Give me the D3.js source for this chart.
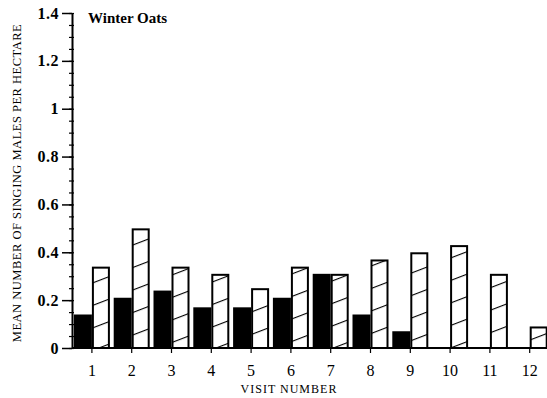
<!DOCTYPE html>
<html>
<head>
<meta charset="utf-8">
<script src="https://cdn.jsdelivr.net/npm/d3@7"></script>
<style>
  body { margin: 0; background: #fff; }
  svg { display: block; }
  .lbl { font-family: "Liberation Serif", "Times New Roman", serif; fill: #000; }
</style>
</head>
<body>
<div id="chart"></div>
<script>
// visit numbers on the x axis
const visits = ["1", "2", "3", "4", "5", "6", "7", "8", "9", "10", "11", "12"];
// solid bars
const solidVals = [0.14, 0.21, 0.24, 0.17, 0.17, 0.21, 0.31, 0.14, 0.07, 0, 0, 0];
// hatched bars
const hatchVals = [0.34, 0.50, 0.34, 0.31, 0.25, 0.34, 0.31, 0.37, 0.40, 0.43, 0.31, 0.09];
// y tick labels
const yTicks = [0, 0.2, 0.4, 0.6, 0.8, 1, 1.2, 1.4];

const W = 547, H = 398;
const margin = { top: 13, left: 72, bottom: 50 };
const y0 = 348;

const svg = d3.select("#chart").append("svg")
  .attr("width", W)
  .attr("height", H);

// hatch pattern
const defs = svg.append("defs");
defs.append("pattern")
  .attr("id", "hatch")
  .attr("patternUnits", "userSpaceOnUse")
  .attr("width", 10)
  .attr("height", 21)
  .attr("patternTransform", "translate(0,3) rotate(-21)")
  .append("line")
  .attr("x1", 0).attr("y1", 0.5)
  .attr("x2", 10).attr("y2", 0.5)
  .attr("stroke", "#000")
  .attr("stroke-width", 1.2);

// scales
let x = d3.scaleBand().domain(visits).range([72, 72 + 12 * 39.8]).padding(0);
let y = d3.scaleLinear().domain([0, 1.4]).range([y0, margin.top]);
const barW = 18;

// solid bars
svg.append("g").selectAll("rect")
  .data(solidVals)
  .join("rect")
  .attr("x", (d, i) => x(visits[i]) + x.bandwidth() / 2 - barW)
  .attr("y", d => y(d))
  .attr("width", barW)
  .attr("height", d => y0 - y(d))
  .attr("fill", "#000");

// hatched bars
svg.append("g").selectAll("rect")
  .data(hatchVals)
  .join("rect")
  .attr("x", (d, i) => x(visits[i]) + x.bandwidth() / 2 + 1)
  .attr("y", d => y(d) + 1)
  .attr("width", barW - 2)
  .attr("height", d => y0 - y(d) - 1)
  .attr("fill", "url(#hatch)")
  .attr("stroke", "#000")
  .attr("stroke-width", 2);

// y minor ticks
svg.append("g")
  .attr("transform", "translate(72,0)")
  .call(d3.axisLeft(y).tickValues(d3.range(0, 29).map(i => i * 0.05)).tickSize(4).tickFormat(""))
  .call(g => g.select(".domain").remove())
  .call(g => g.selectAll("line").attr("stroke-width", 1.2).attr("x2", -3).attr("x1", 2));

// y axis with major ticks
svg.append("g")
  .attr("transform", "translate(72,0)")
  .call(d3.axisLeft(y).tickValues(yTicks).tickSize(10).tickSizeOuter(0)
    .tickFormat(d => d === 0 || d === 1 ? d3.format("d")(d) : d3.format(".1f")(d)))
  .call(g => g.select(".domain").attr("stroke-width", 2))
  .call(g => g.selectAll("line").attr("stroke-width", 1.5))
  .call(g => g.selectAll("text")
    .attr("class", "lbl")
    .attr("x", -13)
    .style("font-size", "16px")
    .style("letter-spacing", "0.5px")
    .style("font-weight", "bold"));

// x axis
svg.append("g")
  .attr("transform", "translate(0," + y0 + ")")
  .call(d3.axisBottom(x).tickSize(5).tickSizeOuter(0))
  .call(g => g.select(".domain").attr("d", "M72,0H547").attr("stroke-width", 2))
  .call(g => g.selectAll("line").attr("stroke-width", 1.2))
  .call(g => g.selectAll("text")
    .attr("class", "lbl")
    .attr("y", 17)
    .style("font-size", "16px"));

// titles
svg.append("text")
  .attr("class", "lbl")
  .attr("x", 88).attr("y", 23)
  .style("font-size", "15px")
  .style("font-weight", "bold")
  .text("Winter Oats");

svg.append("text")
  .attr("class", "lbl")
  .attr("x", 289).attr("y", 393)
  .attr("text-anchor", "middle")
  .style("font-size", "12px")
  .style("letter-spacing", "1px")
  .text("VISIT NUMBER");

svg.append("text")
  .attr("class", "lbl")
  .attr("transform", "translate(21,183) rotate(-90)")
  .attr("text-anchor", "middle")
  .style("font-size", "12.5px")
  .style("letter-spacing", "0.5px")
  .text("MEAN NUMBER OF SINGING MALES PER HECTARE");
</script>
</body>
</html>
